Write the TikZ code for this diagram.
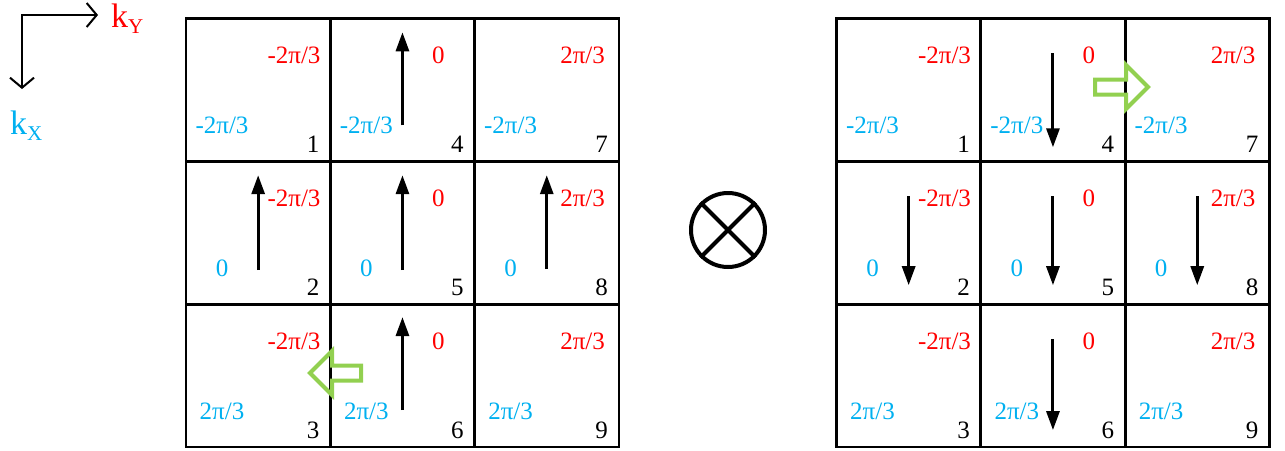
\documentclass[tikz,border=0pt]{standalone}
\usepackage{fontspec}
\setmainfont{Liberation Serif}
\usetikzlibrary{arrows.meta,calc}
\definecolor{kred}{RGB}{255,0,0}
\definecolor{kblue}{RGB}{0,176,240}
\definecolor{kgreen}{RGB}{146,208,80}
\newcommand{\labfont}{\fontsize{25}{25}\selectfont}
\begin{document}
\begin{tikzpicture}[x=1pt,y=-1pt,
  cell/.style={draw, line width=2.8pt, minimum width=144.3pt, minimum height=142.9pt, inner sep=0pt, outer sep=0pt, anchor=north west},
  lab/.style={inner sep=0pt, anchor=base, font=\labfont},
  redlab/.style={lab, text=kred},
  bluelab/.style={lab, text=kblue},
  numlab/.style={lab, text=black},
  spin/.style={line width=3pt, -{Triangle[length=19pt,width=13pt]}},
  axis/.style={line width=2pt, {Straight Barb[length=10pt,width=24pt]}-{Straight Barb[length=10pt,width=24pt]}},
  greenarrow/.style={draw=kgreen, line width=4pt, line join=miter},
  ksym/.style={inner sep=0pt, anchor=base west, font=\fontsize{34}{34}\selectfont}
]
\useasboundingbox (0,0) rectangle (1285,450);

% axes
\coordinate (ax) at (22,15);
\coordinate (ay) at (98,15);
\coordinate (axx) at (22,89);
\draw[axis] (ay) -- (ax) -- (axx);
\node[ksym, text=kred] (kY) at (111,27) {k\raisebox{-6pt}{\fontsize{21}{21}\selectfont Y}};
\node[ksym, text=kblue] (kX) at (10,134) {k\raisebox{-6pt}{\fontsize{21}{21}\selectfont X}};

% grids
\foreach \g/\gx in {L/186, R/836.5} {
  \foreach \c in {0,1,2} {
    \foreach \r in {0,1,2} {
      \pgfmathtruncatemacro\n{\c*3+\r+1}
      \node[cell] (\g\n) at (\gx+\c*144.3, 18.3+\r*142.9) {};
      \node[redlab] (\g\n red) at ($(\g\n.north west)+(108,45.3)$)
        {\ifcase\c -2π/3\or 0\or 2π/3\fi};
      \node[bluelab] (\g\n blue) at ($(\g\n.north west)+(36,115)$)
        {\ifcase\r -2π/3\or 0\or 2π/3\fi};
      \node[numlab] (\g\n num) at ($(\g\n.north west)+(127,134.5)$) {\n};
    }
  }
}

% left grid spins (up)
\foreach \k/\b/\t in {4/107/14, 2/109/14, 5/109/14, 8/108/14, 6/106/13} {
  \draw[spin] ($(L\k.north)+(0,\b)$) -- ($(L\k.north)+(0,\t)$);
}
% right grid spins (down)
\foreach \k/\t in {4/129, 2/124, 5/124, 8/124, 6/126} {
  \draw[spin] ($(R\k.north)+(0,35)$) -- ($(R\k.north)+(0,\t)$);
}

% green hollow arrows
\draw[greenarrow] (310,373) -- (332,351) -- (332,365.5) -- (361,365.5) -- (361,380.5) -- (332,380.5) -- (332,395) -- cycle;
\draw[greenarrow] (1148,87) -- (1126,65) -- (1126,79.5) -- (1095,79.5) -- (1095,94.5) -- (1126,94.5) -- (1126,109) -- cycle;

% otimes
\node[circle, draw, line width=4pt, minimum size=74pt, inner sep=0pt] (ot) at (728,230) {};
\draw[line width=4pt] (ot.north west) -- (ot.south east);
\draw[line width=4pt] (ot.north east) -- (ot.south west);
\end{tikzpicture}
\end{document}
